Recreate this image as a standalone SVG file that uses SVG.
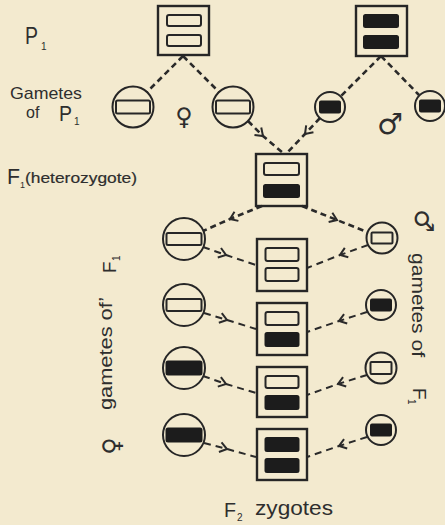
<svg xmlns="http://www.w3.org/2000/svg" width="445" height="525" viewBox="0 0 445 525">
<style>
.ink{stroke:#262626;fill:none}
.box{stroke:#262626;stroke-width:2.4;fill:none}
.bar{stroke:#262626;stroke-width:2;fill:none}
.blk{stroke:#1c1c1c;stroke-width:2;fill:#1c1c1c}
.gc{stroke:#262626;stroke-width:2;fill:none}
.dash{stroke:#2a2a2a;stroke-width:2.6;fill:none;stroke-dasharray:6 4}
.dash2{stroke:#2a2a2a;stroke-width:2;fill:none;stroke-dasharray:7 5}
.t{font-family:"Liberation Sans",Arial,sans-serif;fill:#2e2e2e}
.sym{font-family:"DejaVu Sans",sans-serif;fill:#2e2e2e}
</style>
<defs>
<marker id="chev" markerUnits="userSpaceOnUse" markerWidth="20" markerHeight="20" viewBox="-10 -10 20 20" refX="0" refY="0" orient="auto">
<path d="M-7,-5 L0,0 L-7,5" fill="none" stroke="#2a2a2a" stroke-width="2" stroke-dasharray="none"/>
</marker>
</defs>
<rect x="0" y="0" width="445" height="525" fill="#f3eacf"/>

<g id="labels">
<text class="t" x="25" y="44" font-size="24" textLength="13" lengthAdjust="spacingAndGlyphs">P</text>
<text class="t" x="41" y="50" font-size="10">1</text>
<text class="t" x="10" y="99" font-size="17" textLength="72" lengthAdjust="spacingAndGlyphs">Gametes</text>
<text class="t" x="26" y="118" font-size="16">of</text>
<text class="t" x="59" y="121" font-size="22" textLength="13" lengthAdjust="spacingAndGlyphs">P</text>
<text class="t" x="74" y="125" font-size="10">1</text>
<text class="sym" x="184" y="125" font-size="24" text-anchor="middle">♀</text>
<text class="sym" x="390" y="134" font-size="29" text-anchor="middle">♂</text>
<text class="t" x="7" y="184" font-size="22" textLength="13" lengthAdjust="spacingAndGlyphs">F</text>
<text class="t" x="20" y="188" font-size="9">1</text>
<text class="t" x="25" y="183" font-size="15" stroke="#2e2e2e" stroke-width="0.2" textLength="112" lengthAdjust="spacingAndGlyphs">(heterozygote)</text>
<g transform="translate(112,410) rotate(-90)">
<text class="t" x="0" y="0" font-size="19" textLength="113" lengthAdjust="spacingAndGlyphs">gametes of’</text>
<text class="t" x="137" y="4" font-size="19">F</text>
<text class="t" x="149" y="8" font-size="10">1</text>
</g>
<text class="sym" transform="translate(112,446) rotate(-90)" x="0" y="8" font-size="24" text-anchor="middle">♀</text>
<text class="sym" transform="translate(424,221) rotate(90)" x="0" y="9" font-size="26" text-anchor="middle">♂</text>
<g transform="translate(412,253) rotate(90)">
<text class="t" x="0" y="0" font-size="19" textLength="104" lengthAdjust="spacingAndGlyphs">gametes of</text>
<text class="t" x="135" y="-1" font-size="19">F</text>
<text class="t" x="146" y="4" font-size="10">1</text>
</g>
<text class="t" x="224" y="517" font-size="20" textLength="12" lengthAdjust="spacingAndGlyphs">F</text>
<text class="t" x="237" y="521" font-size="10">2</text>
<text class="t" x="255" y="515" font-size="20" textLength="78" lengthAdjust="spacingAndGlyphs">zygotes</text>
</g>

<g id="connectors">
<path class="dash" d="M183,56 L147,92"/>
<path class="dash" d="M183,56 L219,92"/>
<path class="dash" d="M381,56 L341,96"/>
<path class="dash" d="M381,56 L419,95"/>
<polyline class="dash" points="248,121 263,136 283,153" marker-mid="url(#chev)"/>
<polyline class="dash" points="320,118 305,134 287,153" marker-mid="url(#chev)"/>
<polyline class="dash" points="262,206 230,219 203,231" marker-mid="url(#chev)"/>
<polyline class="dash" points="302,206 337,220 367,232" marker-mid="url(#chev)"/>

<polyline class="dash2" points="203,247 226,255 256,265" marker-mid="url(#chev)"/>
<polyline class="dash2" points="368,245 340,255 307,268" marker-mid="url(#chev)"/>
<polyline class="dash2" points="204,313 227,320 256,329" marker-mid="url(#chev)"/>
<polyline class="dash2" points="367,312 339,321 307,332" marker-mid="url(#chev)"/>
<polyline class="dash2" points="203,376 226,384 256,393" marker-mid="url(#chev)"/>
<polyline class="dash2" points="367,375 338,384 307,395" marker-mid="url(#chev)"/>
<polyline class="dash2" points="204,443 227,449 256,457" marker-mid="url(#chev)"/>
<polyline class="dash2" points="367,437 339,446 307,457" marker-mid="url(#chev)"/>
</g>

<g id="p1-white" transform="translate(158,6)">
<rect class="box" x="0" y="0" width="51" height="49"/>
<rect class="bar" x="9" y="9" width="34" height="11" rx="2"/>
<rect class="bar" x="9" y="29" width="34" height="11" rx="2"/>
</g>
<g id="p1-black" transform="translate(356,6)">
<rect class="box" x="0" y="0" width="51" height="50"/>
<rect class="blk" x="8" y="9" width="34" height="12" rx="1.5"/>
<rect class="blk" x="8" y="30" width="34" height="12" rx="1.5"/>
</g>

<g id="gp-w1" transform="translate(133,107)">
<circle class="gc" r="20.5"/>
<rect class="bar" x="-17" y="-6.5" width="34" height="13" rx="1.5"/>
</g>
<g id="gp-w2" transform="translate(233,107)">
<circle class="gc" r="20.5"/>
<rect class="bar" x="-17" y="-6.5" width="34" height="13" rx="1.5"/>
</g>
<g id="gp-b1" transform="translate(330,107)">
<circle class="gc" r="15"/>
<rect class="blk" x="-10" y="-5.5" width="20" height="11" rx="1"/>
</g>
<g id="gp-b2" transform="translate(430,106)">
<circle class="gc" r="15"/>
<rect class="blk" x="-10" y="-5.5" width="20" height="11" rx="1"/>
</g>

<g id="f1" transform="translate(256,154)">
<rect class="box" x="0" y="0" width="51" height="52"/>
<rect class="bar" x="8" y="9" width="35" height="12" rx="2"/>
<rect class="blk" x="8" y="31" width="35" height="12" rx="1.5"/>
</g>

<g id="gf-l1" transform="translate(184,239)">
<circle class="gc" r="21"/>
<rect class="bar" x="-17.5" y="-6" width="35" height="12" rx="1.5"/>
</g>
<g id="gf-l2" transform="translate(184,305)">
<circle class="gc" r="21"/>
<rect class="bar" x="-17.5" y="-6" width="35" height="12" rx="1.5"/>
</g>
<g id="gf-l3" transform="translate(184,368)">
<circle class="gc" r="21"/>
<rect class="blk" x="-17.5" y="-6.5" width="35" height="13" rx="1.5"/>
</g>
<g id="gf-l4" transform="translate(184,435)">
<circle class="gc" r="21"/>
<rect class="blk" x="-17.5" y="-6.5" width="35" height="13" rx="1.5"/>
</g>

<g id="gm-r1" transform="translate(382,238)">
<circle class="gc" r="15.5"/>
<rect class="bar" x="-10.5" y="-5.5" width="21" height="11" rx="1"/>
</g>
<g id="gm-r2" transform="translate(381,305)">
<circle class="gc" r="15"/>
<rect class="blk" x="-10" y="-5.5" width="20" height="11" rx="1"/>
</g>
<g id="gm-r3" transform="translate(381,368)">
<circle class="gc" r="15.5"/>
<rect class="bar" x="-10.5" y="-6" width="21" height="12" rx="1"/>
</g>
<g id="gm-r4" transform="translate(381,430)">
<circle class="gc" r="15"/>
<rect class="blk" x="-10" y="-5.5" width="20" height="11" rx="1"/>
</g>

<g id="f2-1" transform="translate(257,239)">
<rect class="box" x="0" y="0" width="50" height="52"/>
<rect class="bar" x="8.5" y="9" width="33" height="13" rx="2"/>
<rect class="bar" x="8.5" y="29" width="33" height="13" rx="2"/>
</g>
<g id="f2-2" transform="translate(257,303)">
<rect class="box" x="0" y="0" width="50" height="52"/>
<rect class="bar" x="8.5" y="9" width="33" height="13" rx="2"/>
<rect class="blk" x="8.5" y="30" width="33" height="13" rx="1.5"/>
</g>
<g id="f2-3" transform="translate(257,367)">
<rect class="box" x="0" y="0" width="50" height="50"/>
<rect class="bar" x="8.5" y="9" width="33" height="12" rx="2"/>
<rect class="blk" x="8.5" y="29" width="33" height="13" rx="1.5"/>
</g>
<g id="f2-4" transform="translate(257,429)">
<rect class="box" x="0" y="0" width="50" height="51"/>
<rect class="blk" x="8.5" y="9" width="33" height="13" rx="1.5"/>
<rect class="blk" x="8.5" y="30" width="33" height="13" rx="1.5"/>
</g>
</svg>
